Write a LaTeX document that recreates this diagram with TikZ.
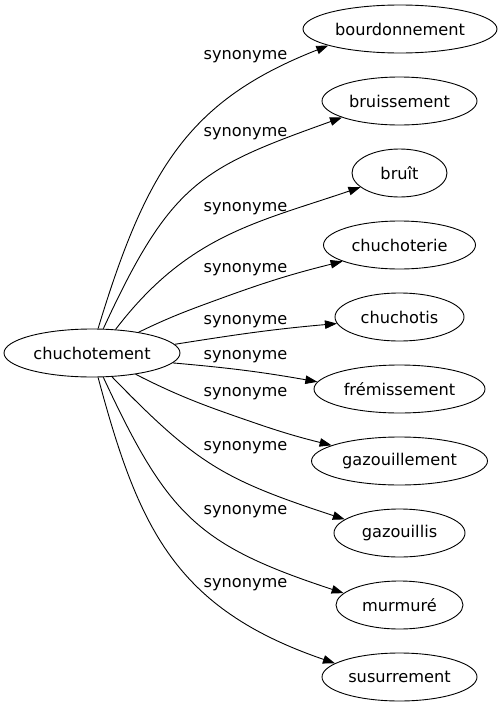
\documentclass[tikz,border=0pt]{standalone}
\usepackage{fontspec}
\setmainfont{DejaVu Sans}
\usetikzlibrary{arrows.meta,shapes.geometric}
\begin{document}
\begin{tikzpicture}[x=1pt,y=1pt,
  every node/.style={font=\fontsize{16.2}{19}\selectfont},
  word/.style={ellipse,draw,line width=0.9pt,inner sep=0pt,minimum height=48pt},
  syn/.style={inner sep=0pt},
  synarrow/.style={line width=0.9pt,-{Triangle[length=12pt,width=8.5pt]}}]
\useasboundingbox (0,0) rectangle (500,-707);
% nodes
\node[word,minimum width=176pt] (c) at (92,-353) {chuchotement};
\node[word,minimum width=194pt] (b1) at (400,-29) {bourdonnement};
\node[word,minimum width=155pt] (b2) at (399.5,-101) {bruissement};
\node[word,minimum width=95pt] (b3) at (399.5,-173) {bruît};
\node[word,minimum width=152pt] (b4) at (399.5,-245) {chuchoterie};
\node[word,minimum width=129pt] (b5) at (399.5,-317) {chuchotis};
\node[word,minimum width=171pt] (b6) at (399.5,-389) {frémissement};
\node[word,minimum width=176pt] (b7) at (399.5,-461) {gazouillement};
\node[word,minimum width=131pt] (b8) at (399.5,-533) {gazouillis};
\node[word,minimum width=127pt] (b9) at (399.5,-605) {murmuré};
\node[word,minimum width=155pt] (b10) at (399.5,-677) {susurrement};
% labels
\node[syn] (l1) at (245.5,-57) {synonyme};
\node[syn] (l2) at (245.5,-134) {synonyme};
\node[syn] (l3) at (245.5,-209) {synonyme};
\node[syn] (l4) at (245.5,-270) {synonyme};
\node[syn] (l5) at (245.5,-322) {synonyme};
\node[syn] (l6) at (245.5,-357) {synonyme};
\node[syn] (l7) at (245.5,-394) {synonyme};
\node[syn] (l8) at (245.5,-448) {synonyme};
\node[syn] (l9) at (245.5,-512) {synonyme};
\node[syn] (l10) at (245.5,-585) {synonyme};
% waypoints
\coordinate (w4a) at (222,-298);
\coordinate (w7a) at (255,-423);
% edges
\draw[synarrow] (c.76) .. controls (147,-167) and (190,-100) .. (b1.193);
\draw[synarrow] (c.65) .. controls (171,-182) and (201,-168) .. (b2.196);
\draw[synarrow] (c.45) .. controls (187.6,-235.1) and (256.6,-222.6) .. (b3.200);
\draw[synarrow] (c.24) to[out=26,in=200] (w4a) to[out=20,in=194] (b4.196);
\draw[synarrow] (c.6) to[out=9,in=185] (b5.186);
\draw[synarrow] (c.353) to[out=-5,in=170] (b6.175);
\draw[synarrow] (c.334) to[out=-27,in=161] (w7a) to[out=-19,in=166] (b7.167);
\draw[synarrow] (c.310) .. controls (197.3,-464.6) and (223.7,-479.6) .. (b8.166);
\draw[synarrow] (c.295) .. controls (167.7,-515.6) and (197.5,-545.1) .. (b9.168);
\draw[synarrow] (c.284) .. controls (138.4,-527.8) and (174.9,-608.5) .. (b10.168);
\end{tikzpicture}
\end{document}
